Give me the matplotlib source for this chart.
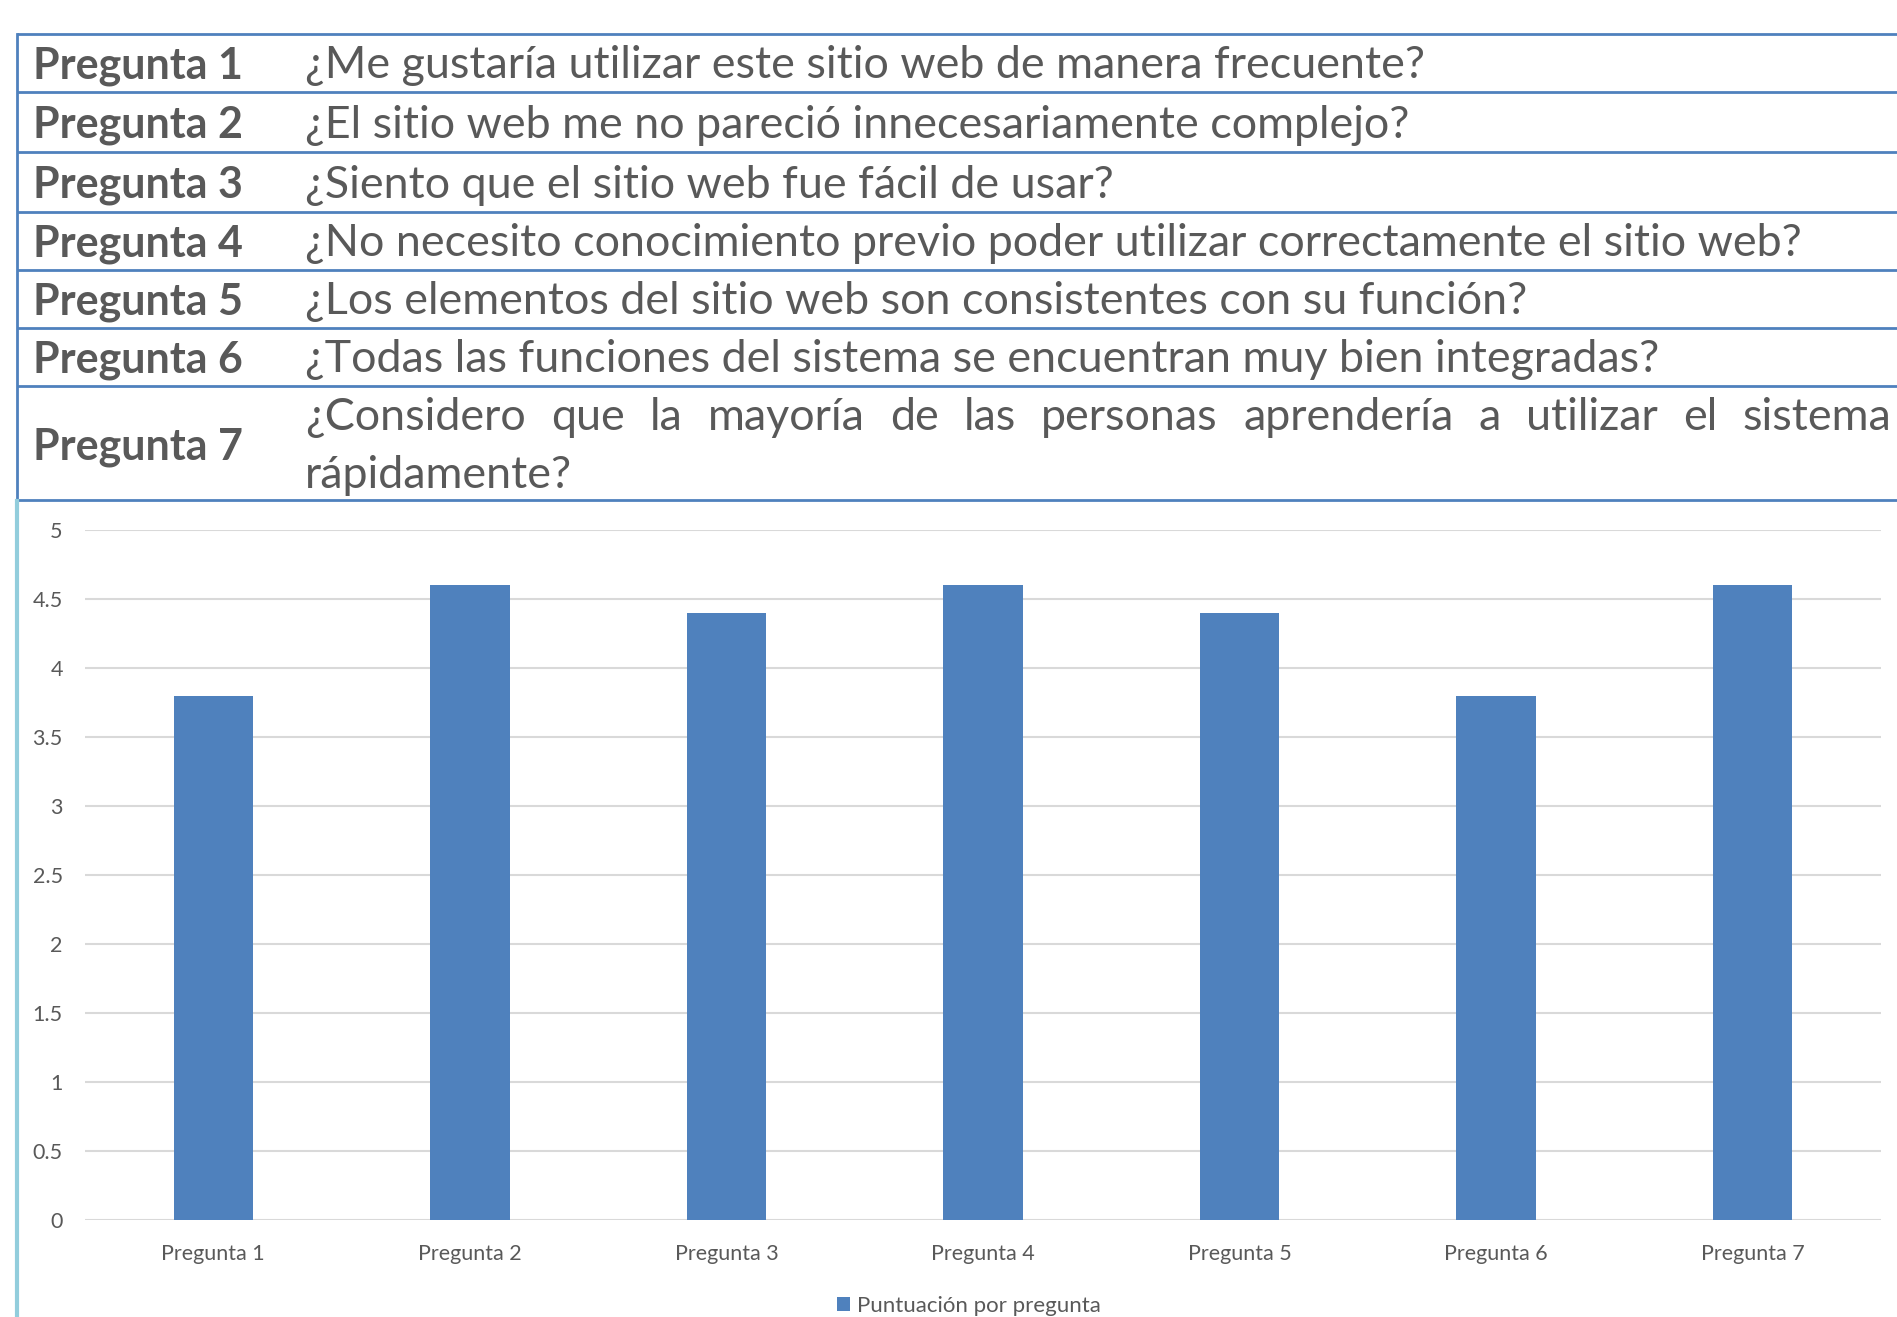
import matplotlib
matplotlib.use('Agg')
import matplotlib.pyplot as plt
import numpy as np

plt.rcParams['font.family'] = ['Lato', 'DejaVu Sans']

# data
categorias = ['Pregunta 1', 'Pregunta 2', 'Pregunta 3', 'Pregunta 4',
              'Pregunta 5', 'Pregunta 6', 'Pregunta 7']
puntuacion = [3.8, 4.6, 4.4, 4.6, 4.4, 3.8, 4.6]
serie = 'Puntuación por pregunta'
preguntas = [
    '¿Me gustaría utilizar este sitio web de manera frecuente?',
    '¿El sitio web me no pareció innecesariamente complejo?',
    '¿Siento que el sitio web fue fácil de usar?',
    '¿No necesito conocimiento previo poder utilizar correctamente el sitio web?',
    '¿Los elementos del sitio web son consistentes con su función?',
    '¿Todas las funciones del sistema se encuentran muy bien integradas?',
    '¿Considero que la mayoría de las personas aprendería a utilizar el sistema rápidamente?',
]
yticks = [0, 0.5, 1, 1.5, 2, 2.5, 3, 3.5, 4, 4.5, 5]

W, H = 1897, 1317
fig = plt.figure(figsize=(W / 100, H / 100), dpi=100)

# overlay in pixel coords for the table header
ov = fig.add_axes([0, 0, 1, 1])
ov.set_xlim(0, W)
ov.set_ylim(H, 0)
ov.axis('off')

blue = '#4F81BD'
txt = '#595959'
row_lines = [34, 92, 152, 212, 270, 328, 386, 500]
for y in row_lines:
    ov.plot([17, W], [y, y], color=blue, lw=2, solid_capstyle='butt')
ov.plot([17, 17], [34, 500], color=blue, lw=2)
# light blue chart border
ov.plot([17, 17], [501, H], color='#92CDDC', lw=3)

fs_b = 31
fs_q = 32.3
qx = 305
for i in range(6):
    yc = (row_lines[i] + row_lines[i + 1]) / 2 + 3
    ov.text(33, yc, categorias[i], fontsize=fs_b, fontweight='bold',
            color=txt, va='center', ha='left')
    ov.text(qx, yc, preguntas[i], fontsize=fs_q, color=txt,
            va='center', ha='left')

# last row, justified first line
ov.text(33, 447, categorias[6], fontsize=fs_b, fontweight='bold',
        color=txt, va='center', ha='left')
palabras = preguntas[6].split()
linea1 = palabras[:-1]
fig.canvas.draw()
r = fig.canvas.get_renderer()
anchos = []
objs = []
for p in linea1:
    t = ov.text(0, 418, p, fontsize=fs_q, color=txt, va='center', ha='left')
    bb = t.get_window_extent(renderer=r)
    anchos.append(bb.width)
    objs.append(t)
x_fin = 1891
hueco = (x_fin - qx - sum(anchos)) / (len(linea1) - 1)
x = qx
for t, a in zip(objs, anchos):
    t.set_x(x)
    x += a + hueco
ov.text(qx, 475, palabras[-1], fontsize=fs_q, color=txt,
        va='center', ha='left')

# bar chart
ax = fig.add_axes([85 / W, 1 - 1220 / H, (1881 - 85) / W, (1220 - 530) / H])
x = np.arange(len(categorias))
ax.bar(x, puntuacion, width=0.31, color=blue, label=serie, zorder=3)
ax.set_xlim(-0.5, len(categorias) - 0.5)
ax.set_ylim(0, 5)
ax.set_yticks(yticks)
ax.set_yticklabels([('%g' % v) for v in yticks])
ax.set_xticks(x)
ax.set_xticklabels(categorias)
ax.grid(axis='y', color='#D9D9D9', lw=1.5, zorder=0)
for s in ax.spines.values():
    s.set_visible(False)
ax.tick_params(length=0, labelsize=15.5, colors=txt)
ax.tick_params(axis='x', pad=17)
ax.tick_params(axis='y', pad=16)

ax.legend(loc='upper center', bbox_to_anchor=(0.492, -0.081), frameon=False,
          fontsize=16, labelcolor=txt, handlelength=0.6, handleheight=0.6,
          handletextpad=0.3)

fig.savefig('out.png', dpi=100)
